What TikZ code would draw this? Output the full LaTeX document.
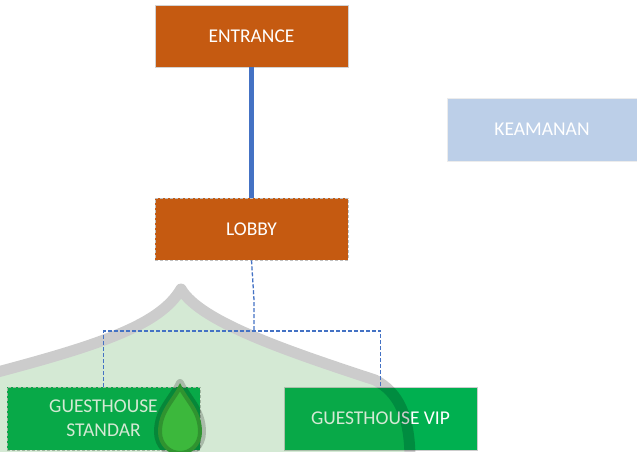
\documentclass[tikz,border=0pt]{standalone}
\usepackage{fontspec}
\setmainfont{Carlito}
\definecolor{brick}{HTML}{C55A11}
\definecolor{linkblue}{HTML}{4472C4}
\definecolor{paleblue}{HTML}{BCCFE8}
\definecolor{leaf}{HTML}{00B050}
\definecolor{dropgreen}{HTML}{3CB83C}
\definecolor{domegreen}{RGB}{40,145,40}
\begin{document}
\begin{tikzpicture}[x=1pt, y=-1pt,
  room/.style={minimum width=193pt, minimum height=62pt, inner sep=0pt, align=center,
    text=white, font=\fontsize{19.5}{24}\selectfont},
  link/.style={linkblue, line width=1.3pt, dash pattern=on 4pt off 2pt}]
\useasboundingbox (0,0) rectangle (637,451);
\node[room, fill=brick, draw=gray!35, line width=0.6pt] (entrance) at (251.5,36) {ENTRANCE};
\node[room, fill=brick, draw=gray!50, densely dashed, line width=0.6pt] (lobby) at (251.5,229) {LOBBY};
\node[room, fill=paleblue, draw=gray!15, line width=0.6pt, minimum width=190pt, minimum height=63pt] (keamanan) at (542,129.5) {KEAMANAN};
\node[room, fill=leaf, draw=gray!50, densely dashed, line width=0.6pt, minimum height=63pt] (standar) at (103.5,418.5) {GUESTHOUSE\\STANDAR};
\node[room, fill=leaf, draw=gray!40, line width=0.6pt, minimum height=63pt] (vip) at (380.5,418.5) {GUESTHOUSE VIP};
\draw[linkblue, line width=5pt] (entrance) -- (lobby);
\coordinate (fork) at (254,331);
% faint dome mark lying over the lower part
\begin{scope}[transparency group, opacity=.2]
\fill[domegreen] (-10,374) .. controls (100,345) and (160,325) .. (181,289)
  .. controls (200,322) and (290,352) .. (375,380) .. controls (398,392) and (410,415) .. (410,460)
  -- (-10,460) -- cycle;
\draw[black, line width=11pt, line join=round] (-10,374) .. controls (100,345) and (160,325) .. (181,289)
  .. controls (200,322) and (290,352) .. (375,380) .. controls (398,392) and (410,415) .. (410,460);
\end{scope}
\fill[dropgreen] (180,383) .. controls (172,400) and (158,410) .. (158,432)
  .. controls (158,445) and (168,455) .. (180,455) .. controls (192,455) and (202,445) .. (202,432)
  .. controls (202,410) and (188,400) .. (180,383);
\draw[black, opacity=.2, line width=8pt, line join=round] (180,383) .. controls (172,400) and (158,410) .. (158,432)
  .. controls (158,445) and (168,455) .. (180,455) .. controls (192,455) and (202,445) .. (202,432)
  .. controls (202,410) and (188,400) .. cycle;
\draw[link] (lobby.south) .. controls (253,280) .. (254,300) -- (fork);
\draw[link] (standar.north) |- (fork) -| (vip.north);
\end{tikzpicture}
\end{document}
